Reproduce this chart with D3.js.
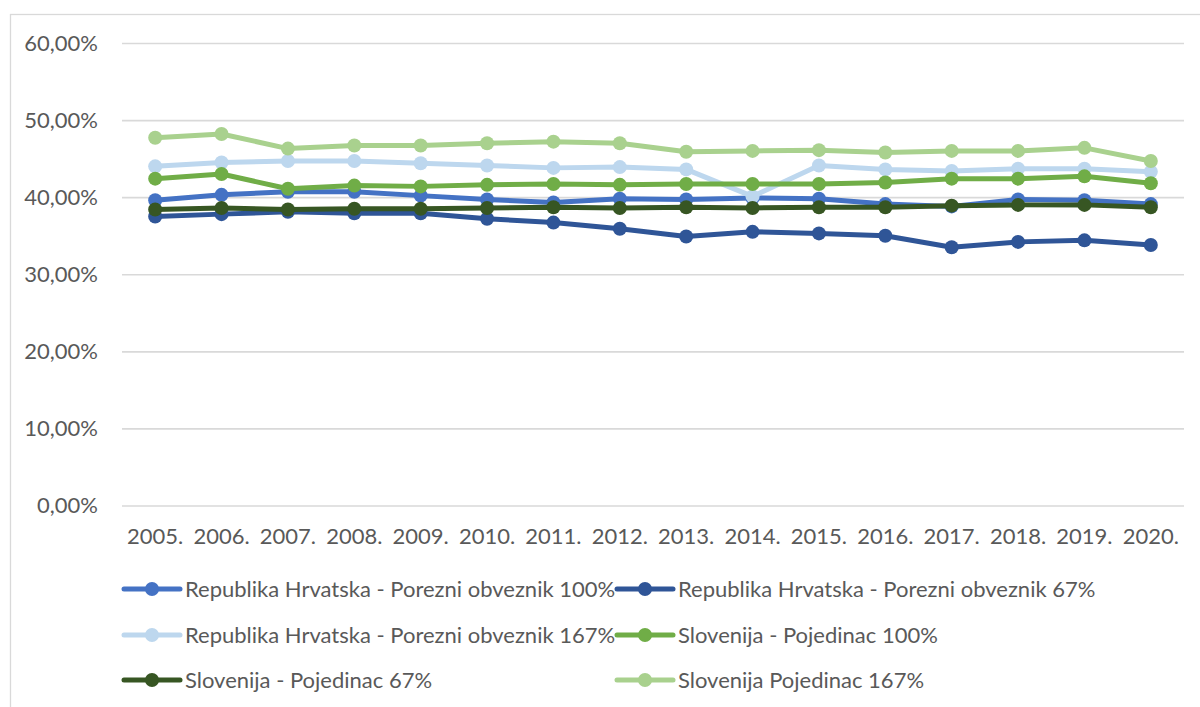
<!DOCTYPE html>
<html>
<head>
<meta charset="utf-8">
<script src="https://cdn.jsdelivr.net/npm/d3@7"></script>
<style>
	body { margin: 0; background: #fff; }
	text { font-family: Lato, "Liberation Sans", sans-serif; fill: #595959; }
</style>
</head>
<body>
<div id="container"></div>
<script>
const years=["2005.", "2006.", "2007.", "2008.", "2009.", "2010.", "2011.", "2012.", "2013.", "2014.", "2015.", "2016.", "2017.", "2018.", "2019.", "2020."];
const yTicks=[0, 10, 20, 30, 40, 50, 60];

const seriesNames=[
	"Republika Hrvatska - Porezni obveznik 100%",
	"Republika Hrvatska - Porezni obveznik 67%",
	"Republika Hrvatska - Porezni obveznik 167%",
	"Slovenija - Pojedinac 100%",
	"Slovenija - Pojedinac 67%",
	"Slovenija Pojedinac 167%"
];

const hr100=[39.6, 40.3, 40.7, 40.7, 40.2, 39.7, 39.3, 39.8, 39.7, 39.9, 39.8, 39.1, 38.8, 39.7, 39.6, 39.1];
const hr67=[37.5, 37.8, 38.1, 37.9, 37.9, 37.2, 36.7, 35.9, 34.9, 35.5, 35.3, 35.0, 33.5, 34.2, 34.4, 33.8];
const hr167=[44.0, 44.5, 44.7, 44.7, 44.4, 44.1, 43.8, 43.9, 43.6, 40.1, 44.1, 43.6, 43.4, 43.7, 43.7, 43.3];
const si100=[42.4, 43.0, 41.1, 41.5, 41.4, 41.6, 41.7, 41.6, 41.7, 41.7, 41.7, 41.9, 42.4, 42.4, 42.7, 41.8];
const si67=[38.4, 38.6, 38.4, 38.5, 38.5, 38.6, 38.7, 38.6, 38.7, 38.6, 38.7, 38.7, 38.9, 39.0, 39.0, 38.7];
const si167=[47.7, 48.2, 46.3, 46.7, 46.7, 47.0, 47.2, 47.0, 45.9, 46.0, 46.1, 45.8, 46.0, 46.0, 46.4, 44.7];

const colors=["#4472C4", "#2F5597", "#BDD7EE", "#70AD47", "#375623", "#A9D18E"];
const series=[hr100, hr67, hr167, si100, si67, si167].map((values, i) => ({name: seriesNames[i], values: values, color: colors[i]}));

const w=1200;
const h=707;
const margin={top: 43, left: 122, right: 16};
const graphWidth=w-margin.left-margin.right;
const graphHeight=505.5-margin.top;

const svg=d3.select("#container").append("svg").attr("width", w).attr("height", h);

// chart area border (runs off the right and bottom edge)
svg.append("rect")
	.attr("x", 10.5).attr("y", 14.5)
	.attr("width", 1200).attr("height", 720)
	.attr("fill", "none").attr("stroke", "#D9D9D9").attr("stroke-width", 1.3);

const graph=svg.append("g").attr("transform", `translate(${margin.left}, ${margin.top})`);

const xScale=d3.scaleBand().domain(years).range([0, graphWidth]).padding(0);
const yScale=d3.scaleLinear().domain([0, 60]).range([graphHeight, 0]);

const formatPct=(d) => d3.format(".2f")(d).replace(".", ",") + "%";

// y axis with gridlines
const yAxis=d3.axisLeft(yScale).tickValues(yTicks).tickFormat(formatPct).tickSizeInner(-graphWidth).tickSizeOuter(0).tickPadding(24);
const yAxisGroup=graph.append("g").attr("id", "y-axis").call(yAxis);
yAxisGroup.select(".domain").remove();
yAxisGroup.selectAll(".tick line").attr("stroke", "#D9D9D9").attr("stroke-width", 1.6);
yAxisGroup.selectAll(".tick text").attr("font-size", 22).attr("fill", "#595959");

// x axis, labels only
const xAxis=d3.axisBottom(xScale).tickSize(0).tickPadding(23);
const xAxisGroup=graph.append("g").attr("id", "x-axis").attr("transform", `translate(0, ${graphHeight})`).call(xAxis);
xAxisGroup.select(".domain").remove();
xAxisGroup.selectAll(".tick text").attr("font-size", 22).attr("fill", "#595959");

const line=d3.line()
	.x((d, i) => xScale(years[i]) + xScale.bandwidth()/2)
	.y((d) => yScale(d));

//Lines and dots, in series order so later ones sit on top.
series.forEach((s) => {
	const g=graph.append("g").attr("class", "series");
	g.append("path")
		.attr("d", line(s.values))
		.attr("fill", "none")
		.attr("stroke", s.color)
		.attr("stroke-width", 5)
		.attr("stroke-linejoin", "round")
		.attr("stroke-linecap", "round");
	g.selectAll("circle")
		.data(s.values)
		.enter()
		.append("circle")
			.attr("cx", (d, i) => xScale(years[i]) + xScale.bandwidth()/2)
			.attr("cy", (d) => yScale(d))
			.attr("r", 7)
			.attr("fill", s.color);
});

// Legend, two columns
const legendX=[124, 617];
const legendY=[589, 635, 680];
const legend=svg.append("g").attr("id", "legend");

series.forEach((s, i) => {
	const lx=legendX[i % 2];
	const ly=legendY[Math.floor(i / 2)];
	const item=legend.append("g").attr("transform", `translate(${lx}, ${ly})`);
	item.append("line")
		.attr("x1", 0).attr("x2", 56)
		.attr("y1", 0).attr("y2", 0)
		.attr("stroke", s.color)
		.attr("stroke-width", 5)
		.attr("stroke-linecap", "round");
	item.append("circle")
		.attr("cx", 28).attr("cy", 0).attr("r", 7)
		.attr("fill", s.color);
	item.append("text")
		.attr("x", 61)
		.attr("y", 0)
		.attr("dy", "0.35em")
		.attr("font-size", 22)
		.text(s.name);
});
</script>
</body>
</html>
